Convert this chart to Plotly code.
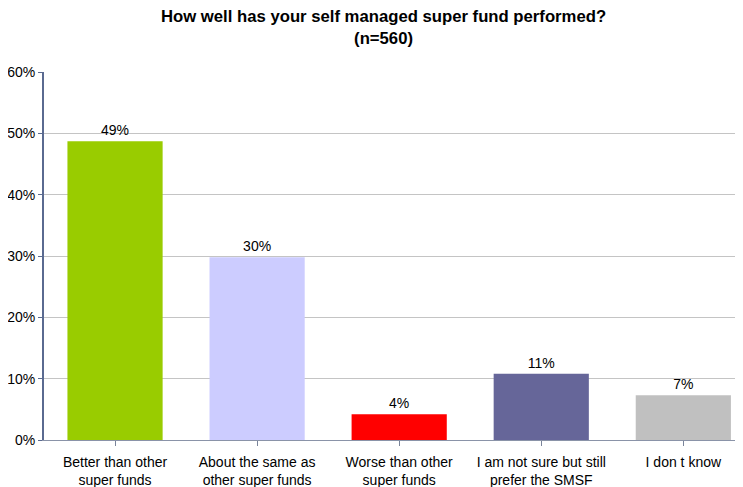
import plotly.graph_objects as go

# categorie e valori (percentuali)
categories = ["Better than other<br>super funds", "About the same as<br>other super funds",
              "Worse than other<br>super funds", "I am not sure but still<br>prefer the SMSF",
              "I don t know"]
values = [0.487, 0.298, 0.042, 0.108, 0.073]
labels = ["49%", "30%", "4%", "11%", "7%"]
colors = ["#99CC00", "#CCCCFF", "#FF0000", "#666699", "#C0C0C0"]

fig = go.Figure(go.Bar(
    x=list(range(len(categories))),
    y=values,
    text=labels,
    textposition="outside",
    textfont=dict(size=14, color="#000000"),
    marker=dict(color=colors, line=dict(width=0)),
    width=0.67,
    cliponaxis=False,
))

# la pagina ha 8px di margine sul body: figura ridotta di conseguenza
fig.update_layout(
    width=735, height=479,
    margin=dict(l=36, r=0, t=64, b=47),
    plot_bgcolor="white", paper_bgcolor="white",
    font=dict(family="Liberation Sans, Arial, sans-serif", size=14, color="#000000"),
    showlegend=False,
)

# titolo come annotazione per posizionarlo con precisione
fig.add_annotation(
    text="<b>How well has your self managed super fund performed?<br>(n=560)</b>",
    xref="paper", yref="paper", x=0.485, y=1.12,
    xanchor="center", yanchor="middle", showarrow=False,
    font=dict(size=16.7, color="#000000"),
)

fig.update_xaxes(
    range=[-0.5, 4.42],
    tickvals=list(range(len(categories))), ticktext=categories,
    tickson="boundaries", ticks="outside", ticklen=5, tickcolor="#7a849a",
    showline=True, linecolor="#8a93a8", linewidth=1,
    showgrid=False, automargin=False, ticklabelstandoff=4,
    tickfont=dict(size=14),
)
fig.update_yaxes(
    range=[0, 0.6], dtick=0.1, tickformat=".0%",
    showline=True, linecolor="#5a6a90", linewidth=2,
    ticks="outside", ticklen=4, tickcolor="#5a6a90",
    showgrid=True, gridcolor="#c4c4c4", gridwidth=1,
    zeroline=False, automargin=False,
    tickfont=dict(size=14),
)

fig.write_html("out.html")
